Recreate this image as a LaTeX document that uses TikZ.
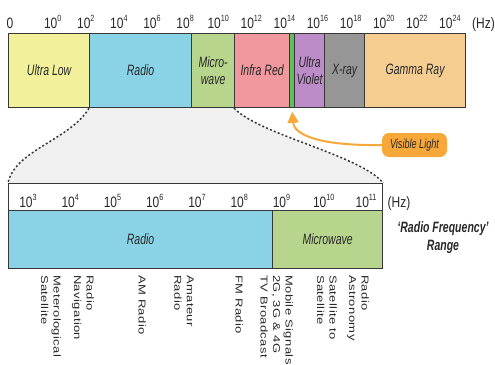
\documentclass[tikz,border=0pt]{standalone}
\usepackage{fontspec}
\setmainfont{Liberation Sans}
\newfontfamily\condsf[FakeStretch=0.7]{Liberation Sans}
\newfontfamily\scalesf[FakeStretch=0.8]{Liberation Sans}
\newfontfamily\widesf[FakeStretch=1.3,LetterSpace=4]{Liberation Sans}
\usetikzlibrary{arrows.meta, positioning, calc}
\pgfdeclarelayer{background}
\pgfsetlayers{background,main}
\definecolor{myedge}{RGB}{55,55,55}
\definecolor{mytext}{RGB}{40,40,40}
\definecolor{myulow}{RGB}{242,240,155}
\definecolor{myradio}{RGB}{138,210,230}
\definecolor{mymicro}{RGB}{183,213,140}
\definecolor{myired}{RGB}{240,152,158}
\definecolor{myvis}{RGB}{95,190,95}
\definecolor{myuviol}{RGB}{188,140,200}
\definecolor{myxray}{RGB}{150,150,150}
\definecolor{mygamma}{RGB}{245,205,145}
\definecolor{myorange}{RGB}{247,168,56}
\definecolor{myshade}{RGB}{240,240,241}
\newcommand{\tenpow}[1]{10\raisebox{0.42em}{\fontsize{9}{9}\selectfont #1}}
\tikzset{
  band/.style={rectangle, draw=myedge, line width=1.2pt, anchor=north west,
    inner sep=0pt, align=center, text=mytext,
    font=\condsf\itshape\fontsize{15}{17}\selectfont},
  scalelbl/.style={anchor=base, inner sep=0pt, text=mytext,
    font=\scalesf\fontsize{15}{17}\selectfont},
  uselbl/.style={rotate=-90, anchor=north west, align=left, inner sep=0pt,
    text=mytext, font=\widesf\fontsize{10}{12.5}\selectfont},
  zoomline/.style={myedge, line width=1.5pt, dash pattern=on 2pt off 2.2pt},
  callout/.style={rectangle, rounded corners=7pt, fill=myorange, text=mytext,
    minimum width=65pt, minimum height=24pt, inner sep=0pt,
    font=\condsf\itshape\fontsize{13}{15}\selectfont},
  calloutarrow/.style={-{Triangle[width=11pt,length=11pt]}, myorange, line width=2pt}
}
\begin{document}
\begin{tikzpicture}[x=1pt, y=-1pt]
  \useasboundingbox (0,0) rectangle (495,364);
  % full spectrum bar
  \node[band, fill=myulow, minimum width=81pt, minimum height=74pt] (ulow) at (8,33) {Ultra Low};
  \node[band, fill=myradio, minimum width=102pt, minimum height=74pt] (radio) at (89,33) {Radio};
  \node[band, fill=mymicro, minimum width=43pt, minimum height=74pt] (micro) at (191,33) {Micro-\\wave};
  \node[band, fill=myired, minimum width=55pt, minimum height=74pt] (ired) at (234,33) {Infra Red};
  \node[band, fill=myvis, line width=0.8pt, minimum width=5pt, minimum height=74pt] (vis) at (289,33) {};
  \node[band, fill=myuviol, minimum width=30pt, minimum height=74pt] (uviol) at (294,33) {Ultra\\Violet};
  \node[band, fill=myxray, minimum width=40pt, minimum height=74pt] (xray) at (324,33) {X-ray};
  \node[band, fill=mygamma, minimum width=101pt, minimum height=74pt] (gamma) at (364,33) {Gamma Ray};
  \node[scalelbl] (zero) at (10,28) {0};
  \foreach \e [count=\k from 0] in {0,2,...,24}
    \node[scalelbl] (top\e) at ({52.7+33.1*\k},28) {\tenpow{\e}};
  \node[scalelbl] (tophz) at (483.5,28) {(Hz)};
  % radio frequency bar
  \node[band, fill=white, minimum width=374pt, minimum height=27pt] (scalebar) at (8,183) {};
  \node[band, fill=myradio, minimum width=264pt, minimum height=58pt] (radio2) at (8,210) {Radio};
  \node[band, fill=mymicro, minimum width=110pt, minimum height=58pt] (micro2) at (272,210) {Microwave};
  \foreach \e [count=\k from 0] in {3,...,11}
    \node[scalelbl] (low\e) at ({28+42.25*\k},207) {\tenpow{\e}};
  \node[scalelbl] (lowhz) at (399,207) {(Hz)};
  \node[align=center, text=mytext, font=\condsf\bfseries\itshape\fontsize{15}{18}\selectfont]
    (rfrange) at (443,238) {‘Radio Frequency’\\Range};
  % zoom region
  \begin{pgfonlayer}{background}
    \fill[myshade] (radio.south west) .. controls (70,140) and (15,150) .. (scalebar.north west)
      -- (scalebar.north east) .. controls (360,155) and (260,135) .. (ired.south west) -- cycle;
  \end{pgfonlayer}
  \draw[zoomline] (radio.south west) .. controls (70,140) and (15,150) .. (scalebar.north west);
  \draw[zoomline] (ired.south west) .. controls (260,135) and (360,155) .. (scalebar.north east);
  % visible light callout
  \node[callout] (vislight) at (414.5,145) {Visible Light};
  \draw[calloutarrow, shorten >=4pt] (vislight.west) .. controls (320,146) and (294,135) .. (vis.south);
  % uses
  \foreach \x/\name/\txt in {61/metsat/{Meterological\\Satellite}, 94/radnav/{Radio\\Navigation},
      146/amrad/{AM Radio}, 194/hamrad/{Amateur\\Radio}, 243/fmrad/{FM Radio},
      268/tvbc/{TV Broadcast}, 293/mobsig/{Mobile Signals\\2G, 3G \& 4G},
      337/satsat/{Satellite to\\Satellite}, 369/radast/{Radio\\Astronomy}}
    \node[uselbl] (\name) at (\x,275) {\txt};
\end{tikzpicture}
\end{document}
